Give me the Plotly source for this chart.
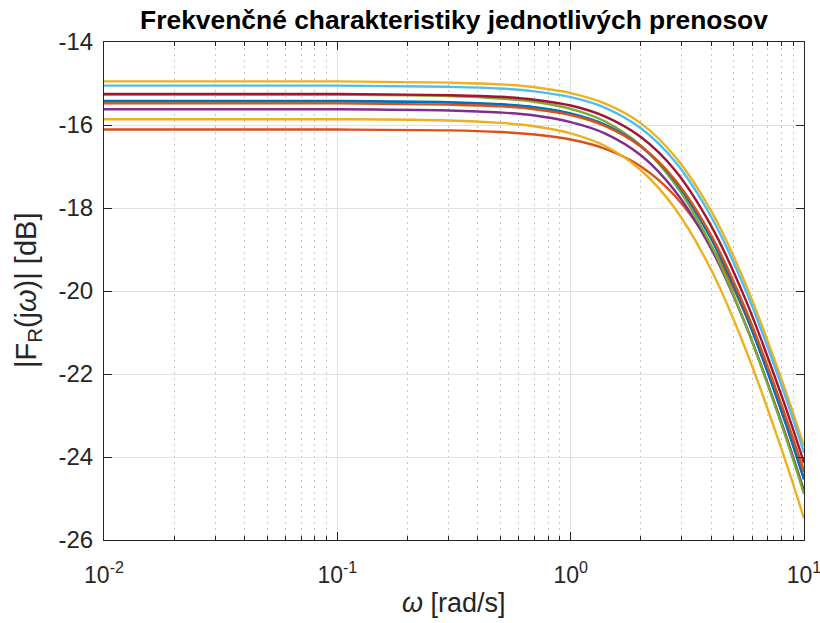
import plotly.graph_objects as go

omega = [0.01, 0.1, 0.3, 0.5, 0.7, 1, 1.4, 2, 2.8, 4, 5.6, 8, 10]

# Magnitudes [dB]
blue_a   = [-15.43, -15.43, -15.46, -15.51, -15.58, -15.73, -16.00, -16.52, -17.36, -18.74, -20.54, -22.89, -24.54]
orange_a = [-16.11, -16.11, -16.13, -16.17, -16.23, -16.35, -16.57, -17.00, -17.71, -18.91, -20.55, -22.76, -24.35]
yellow_a = [-14.95, -14.95, -14.98, -15.02, -15.09, -15.23, -15.48, -15.96, -16.76, -18.07, -19.81, -22.12, -23.74]
purple   = [-15.62, -15.62, -15.65, -15.70, -15.77, -15.93, -16.20, -16.73, -17.59, -18.98, -20.79, -23.16, -24.81]
green    = [-15.27, -15.27, -15.30, -15.36, -15.44, -15.61, -15.91, -16.50, -17.42, -18.90, -20.79, -23.21, -24.89]
lightblue= [-15.05, -15.05, -15.08, -15.12, -15.19, -15.33, -15.58, -16.08, -16.88, -18.21, -19.96, -22.27, -23.90]
darkred  = [-15.25, -15.25, -15.28, -15.32, -15.39, -15.53, -15.79, -16.29, -17.09, -18.43, -20.19, -22.51, -24.14]
blue_b   = [-15.42, -15.42, -15.45, -15.50, -15.57, -15.72, -15.99, -16.51, -17.35, -18.73, -20.53, -22.88, -24.53]
orange_b = [-15.48, -15.48, -15.51, -15.55, -15.62, -15.76, -16.02, -16.52, -17.32, -18.66, -20.42, -22.74, -24.37]
yellow_b = [-15.86, -15.86, -15.89, -15.95, -16.03, -16.20, -16.50, -17.09, -18.01, -19.49, -21.38, -23.80, -25.48]

series = [blue_a, orange_a, yellow_a, purple, green, lightblue, darkred, blue_b, orange_b, yellow_b]
colors = ["#0072BD", "#D95319", "#EDB120", "#7E2F8E", "#77AC30",
          "#4DBEEE", "#A2142F", "#0072BD", "#D95319", "#EDB120"]

x_ticks = [0.01, 0.1, 1, 10]
x_ticktext = ["10<sup>-2</sup>", "10<sup>-1</sup>", "10<sup>0</sup>", "10<sup>1</sup>"]
y_ticks = [-26, -24, -22, -20, -18, -16, -14]
y_ticktext = ["-26", "-24", "-22", "-20", "-18", "-16", "-14"]
x_minor = [k * 10.0 ** e for e in (-2, -1, 0) for k in range(2, 10)]

FONT = "Liberation Sans, Arial, Helvetica, sans-serif"
AX = "#262626"

fig = go.Figure()
for vals, col in zip(series, colors):
    fig.add_trace(go.Scatter(x=omega, y=vals, mode="lines",
                             line=dict(color=col, width=2.4, shape="spline"),
                             showlegend=False, hoverinfo="skip"))

common = dict(showline=True, linecolor=AX, linewidth=1, mirror="allticks",
              ticks="inside", tickcolor=AX, ticklen=8, tickwidth=1,
              showgrid=True, gridcolor="#E1E1E1", gridwidth=1, zeroline=False,
              ticklabeloverflow="allow", automargin=False)

fig.update_xaxes(type="log", range=[-2, 1.00002], tickmode="array",
                 tickvals=x_ticks, ticktext=x_ticktext,
                 minor=dict(tickmode="array", tickvals=x_minor, ticks="inside",
                            ticklen=4, tickcolor=AX, showgrid=True,
                            gridcolor="#C4C4C4", griddash="2px,4px", gridwidth=1),
                 ticklabelstandoff=14,
                 tickfont=dict(family=FONT, size=23, color=AX), **common)
fig.update_yaxes(range=[-26, -14], tickmode="array",
                 tickvals=y_ticks, ticktext=y_ticktext,
                 ticklabelstandoff=5,
                 tickfont=dict(family=FONT, size=24, color=AX), **common)

fig.update_layout(
    width=820, height=623,
    margin=dict(l=104, r=16, t=42, b=83, pad=0, autoexpand=False),
    paper_bgcolor="white", plot_bgcolor="white",
    title=dict(text="<b>Frekvenčné charakteristiky jednotlivých prenosov</b>",
               x=0.5, xref="paper", y=1 - 20 / 623, yref="container",
               xanchor="center", yanchor="middle",
               font=dict(family=FONT, size=26.4, color="#000000")),
    annotations=[
        dict(text="<i>ω</i> [rad/s]", x=0.5, xref="paper", y=-63 / 498, yref="paper",
             xanchor="center", yanchor="middle", showarrow=False,
             font=dict(family=FONT, size=27, color=AX)),
        dict(text="|F<sub>R</sub>(j<i>ω</i>)| [dB]", x=-76 / 700, xref="paper",
             y=0.5, yref="paper", xanchor="center", yanchor="middle",
             textangle=-90, showarrow=False,
             font=dict(family=FONT, size=29, color=AX)),
    ],
)

fig.write_html("out.html")
